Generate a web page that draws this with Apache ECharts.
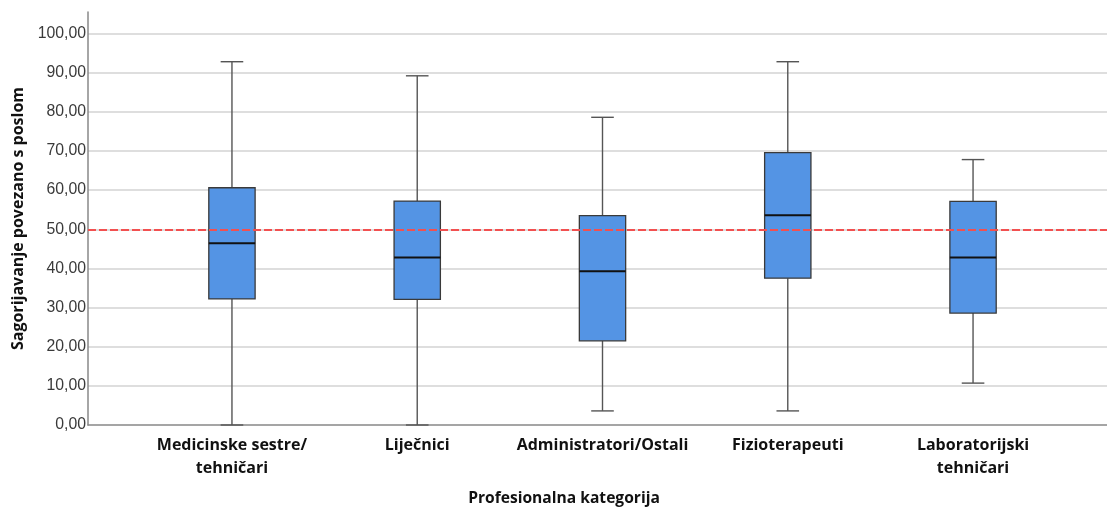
<!DOCTYPE html>
<html>
<head>
<meta charset="utf-8">
<script src="https://cdn.jsdelivr.net/npm/echarts@6/dist/echarts.min.js"></script>
<style>
html,body{margin:0;padding:0;background:#fff;}
#chart{width:1107px;height:508px;}
</style>
</head>
<body>
<div id="chart"></div>
<script>
var categories = ['Medicinske sestre/\ntehničari', 'Liječnici', 'Administratori/Ostali', 'Fizioterapeuti', 'Laboratorijski\ntehničari'];
var whiskerLow  = [0,    0,    3.6,  3.6,  10.7];
var q1Values    = [32.2, 32.1, 21.5, 37.5, 28.6];
var medians     = [46.4, 42.8, 39.3, 53.6, 42.8];
var q3Values    = [60.6, 57.2, 53.5, 69.6, 57.1];
var whiskerHigh = [92.8, 89.2, 78.6, 92.8, 67.8];
var yTicks = [0, 10, 20, 30, 40, 50, 60, 70, 80, 90, 100];
var referenceLine = 50;

var boxData = categories.map(function (c, i) {
  return [i, whiskerLow[i], q1Values[i], medians[i], q3Values[i], whiskerHigh[i]];
});

function renderBox(params, api) {
  var x = api.value(0);
  var pMin = api.coord([x, api.value(1)]);
  var pQ1 = api.coord([x, api.value(2)]);
  var pMed = api.coord([x, api.value(3)]);
  var pQ3 = api.coord([x, api.value(4)]);
  var pMax = api.coord([x, api.value(5)]);
  var unit = api.size([1, 0])[0];
  var bw = unit * 0.25;
  var cw = unit * 0.122;
  var cx = pMed[0];
  var whiskerStyle = { stroke: '#555', lineWidth: 1.4 };
  return {
    type: 'group',
    children: [
      { type: 'line', shape: { x1: cx, y1: pQ3[1], x2: cx, y2: pMax[1] }, style: whiskerStyle },
      { type: 'line', shape: { x1: cx, y1: pQ1[1], x2: cx, y2: pMin[1] }, style: whiskerStyle },
      { type: 'line', shape: { x1: cx - cw / 2, y1: pMax[1], x2: cx + cw / 2, y2: pMax[1] }, style: whiskerStyle },
      { type: 'line', shape: { x1: cx - cw / 2, y1: pMin[1], x2: cx + cw / 2, y2: pMin[1] }, style: whiskerStyle },
      { type: 'rect', shape: { x: cx - bw / 2, y: pQ3[1], width: bw, height: pQ1[1] - pQ3[1] },
        style: { fill: '#5494E4', stroke: '#3a3a3a', lineWidth: 1.3 } },
      { type: 'line', shape: { x1: cx - bw / 2, y1: pMed[1], x2: cx + bw / 2, y2: pMed[1] },
        style: { stroke: '#111', lineWidth: 2 } }
    ]
  };
}

var chart = echarts.init(document.getElementById('chart'));
chart.setOption({
  animation: false,
  backgroundColor: '#fff',
  grid: { left: 88, right: 0, top: 12, bottom: 83, containLabel: false, outerBoundsMode: 'none' },
  xAxis: {
    type: 'value',
    min: -0.777,
    max: 4.723,
    name: 'Profesionalna kategorija',
    nameLocation: 'middle',
    nameGap: 66,
    nameTextStyle: { fontFamily: 'Open Sans', fontWeight: 'bold', fontSize: 15.6, color: '#111', padding: [0, 67, 0, 0] },
    axisLine: { show: true, onZero: false, lineStyle: { color: '#888', width: 1.5 } },
    axisTick: { show: false },
    splitLine: { show: false },
    axisLabel: {
      customValues: [0, 1, 2, 3, 4],
      formatter: function (v) { return categories[Math.round(v)] || ''; },
      fontFamily: 'Open Sans', fontWeight: 'bold', fontSize: 16, color: '#111',
      lineHeight: 23, margin: 9
    }
  },
  yAxis: {
    type: 'value',
    min: 0,
    max: 105.5,
    interval: 10,
    name: 'Sagorijavanje povezano s poslom',
    nameLocation: 'middle',
    nameGap: 62,
    nameTextStyle: { fontFamily: 'Open Sans', fontWeight: 'bold', fontSize: 16, color: '#111' },
    axisLine: { show: true, onZero: false, lineStyle: { color: '#888', width: 1.5 } },
    axisTick: { show: false },
    axisLabel: {
      customValues: yTicks,
      formatter: function (v) { return v.toFixed(2).replace('.', ','); },
      fontFamily: 'Liberation Sans', fontSize: 15.8, color: '#3a3a3a', margin: 2
    },
    splitLine: { show: true, showMaxLine: false, showMinLine: false, lineStyle: { color: '#d3d3d3', width: 1.6 } }
  },
  series: [{
    type: 'custom',
    renderItem: renderBox,
    encode: { x: 0, y: [1, 2, 3, 4, 5] },
    data: boxData,
    z: 3,
    markLine: {
      silent: true,
      symbol: 'none',
      label: { show: false },
      lineStyle: { color: '#f25050', width: 2, type: [8, 3] },
      data: [{ yAxis: referenceLine }],
      z: 4
    }
  }]
});
</script>
</body>
</html>
